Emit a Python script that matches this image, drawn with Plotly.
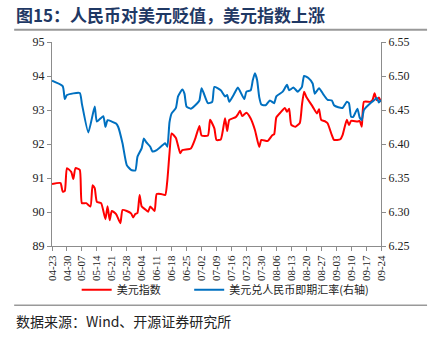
import plotly.graph_objects as go

# 美元指数 (left axis)
dxy_dates = ["2021-04-23","2021-04-27","2021-04-28","2021-04-29","2021-04-30","2021-05-02","2021-05-03","2021-05-04","2021-05-06","2021-05-07",
             "2021-05-09","2021-05-11","2021-05-12","2021-05-13","2021-05-14","2021-05-16","2021-05-18","2021-05-19","2021-05-20","2021-05-21",
             "2021-05-23","2021-05-25","2021-05-26","2021-05-28","2021-05-30","2021-05-31","2021-06-01","2021-06-02","2021-06-03","2021-06-04",
             "2021-06-06","2021-06-07","2021-06-08","2021-06-10","2021-06-11","2021-06-13","2021-06-15","2021-06-16","2021-06-17","2021-06-18",
             "2021-06-20","2021-06-22","2021-06-23","2021-06-27","2021-06-29","2021-07-01","2021-07-02","2021-07-05","2021-07-06","2021-07-08",
             "2021-07-09","2021-07-11","2021-07-13","2021-07-14","2021-07-15","2021-07-18","2021-07-19","2021-07-20","2021-07-21","2021-07-23",
             "2021-07-25","2021-07-27","2021-07-29","2021-07-30","2021-08-02","2021-08-04","2021-08-05","2021-08-06","2021-08-08","2021-08-10",
             "2021-08-11","2021-08-12","2021-08-13","2021-08-15","2021-08-17","2021-08-18","2021-08-19","2021-08-20","2021-08-23","2021-08-25",
             "2021-08-26","2021-08-27","2021-08-29","2021-08-30","2021-09-01","2021-09-02","2021-09-05","2021-09-06","2021-09-08","2021-09-09",
             "2021-09-10","2021-09-13","2021-09-14","2021-09-15","2021-09-16","2021-09-19","2021-09-20","2021-09-21","2021-09-22","2021-09-23",
             "2021-09-24"]
dxy_values = [90.82,90.85,90.60,90.62,91.29,91.18,90.97,91.29,91.24,90.26,
              90.26,90.16,90.79,90.70,90.30,90.26,89.79,90.17,89.76,90.03,
              89.94,89.67,90.06,90.03,89.96,89.84,89.94,89.97,90.50,90.16,
              90.06,90.01,90.16,90.03,90.53,90.53,90.50,90.94,91.73,92.31,
              92.18,91.73,91.82,91.87,92.15,92.53,92.25,92.25,92.71,92.46,
              92.12,92.13,92.76,92.38,92.71,92.79,92.87,92.98,92.82,92.92,
              92.75,92.41,91.91,92.12,92.09,92.25,92.29,92.78,92.93,93.06,
              92.95,93.04,92.56,92.51,92.62,93.15,93.54,93.39,93.10,92.90,
              93.02,92.71,92.66,92.61,92.26,92.12,92.14,92.26,92.71,92.56,
              92.68,92.66,92.68,92.51,93.24,93.24,93.29,93.49,93.29,93.37,
              93.24]

# 美元兑人民币即期汇率 (right axis)
cny_dates = ["2021-04-23","2021-04-28","2021-04-29","2021-04-30","2021-05-06","2021-05-07","2021-05-10","2021-05-13","2021-05-14","2021-05-17",
             "2021-05-18","2021-05-19","2021-05-21","2021-05-23","2021-05-24","2021-05-26","2021-05-28","2021-05-30","2021-06-01","2021-06-02",
             "2021-06-04","2021-06-05","2021-06-06","2021-06-08","2021-06-09","2021-06-11","2021-06-14","2021-06-15","2021-06-16","2021-06-17",
             "2021-06-18","2021-06-20","2021-06-21","2021-06-23","2021-06-24","2021-06-25","2021-06-27","2021-06-30","2021-07-01","2021-07-02",
             "2021-07-03","2021-07-05","2021-07-07","2021-07-08","2021-07-11","2021-07-13","2021-07-14","2021-07-15","2021-07-17","2021-07-19",
             "2021-07-22","2021-07-23","2021-07-25","2021-07-26","2021-07-27","2021-07-28","2021-07-29","2021-07-30","2021-08-01","2021-08-03",
             "2021-08-05","2021-08-06","2021-08-09","2021-08-11","2021-08-12","2021-08-14","2021-08-16","2021-08-17","2021-08-18","2021-08-19",
             "2021-08-21","2021-08-23","2021-08-24","2021-08-26","2021-08-28","2021-08-30","2021-09-01","2021-09-02","2021-09-04","2021-09-06",
             "2021-09-08","2021-09-09","2021-09-10","2021-09-11","2021-09-12","2021-09-13","2021-09-14","2021-09-15","2021-09-16","2021-09-19",
             "2021-09-21","2021-09-22","2021-09-23","2021-09-24"]
cny_values = [6.493,6.485,6.466,6.472,6.475,6.459,6.417,6.455,6.433,6.441,
              6.425,6.435,6.433,6.430,6.425,6.401,6.369,6.362,6.361,6.381,
              6.394,6.408,6.403,6.396,6.389,6.391,6.399,6.401,6.396,6.432,
              6.445,6.453,6.470,6.480,6.474,6.455,6.452,6.460,6.464,6.482,
              6.475,6.460,6.462,6.484,6.479,6.470,6.472,6.462,6.472,6.483,
              6.466,6.477,6.479,6.494,6.504,6.494,6.469,6.458,6.457,6.464,
              6.460,6.470,6.477,6.487,6.479,6.483,6.477,6.480,6.484,6.500,
              6.497,6.489,6.474,6.482,6.473,6.465,6.464,6.457,6.454,6.453,
              6.462,6.460,6.440,6.440,6.446,6.452,6.439,6.435,6.450,6.460,
              6.465,6.468,6.461,6.465]

title_text = "<b>图15：人民币对美元贬值，美元指数上涨</b>"
source_text = "数据来源：Wind、开源证券研究所"
name_dxy = "美元指数"
name_cny = "美元兑人民币即期汇率(右轴)"

serif = "Liberation Serif, Noto Sans CJK SC"
axis_gray = "#8c8c8c"
legend_font = dict(family="Noto Sans CJK SC", size=11, color="#222")

fig = go.Figure()
fig.add_trace(go.Scatter(x=dxy_dates, y=dxy_values, name=name_dxy, mode="lines", legend="legend",
                         line=dict(color="#FF0000", width=2, shape="spline", smoothing=0.5)))
fig.add_trace(go.Scatter(x=cny_dates, y=cny_values, name=name_cny, mode="lines", yaxis="y2", legend="legend2",
                         line=dict(color="#0070C0", width=2, shape="spline", smoothing=0.5)))

fig.update_layout(
    width=441, height=341,
    margin=dict(l=52, r=60, t=42, b=95),
    paper_bgcolor="white", plot_bgcolor="white",
    font=dict(family=serif, size=12, color="#222"),
    showlegend=True,
    legend=dict(orientation="h", x=0.075, xanchor="left", y=-0.215, yanchor="middle",
                font=legend_font, bgcolor="rgba(0,0,0,0)"),
    legend2=dict(orientation="h", x=0.417, xanchor="left", y=-0.215, yanchor="middle",
                 font=legend_font, bgcolor="rgba(0,0,0,0)"),
    xaxis=dict(type="date", range=["2021-04-23", "2021-09-24"],
               tick0="2021-04-23", dtick=7 * 86400000, tickformat="%m-%d",
               tickangle=-90, tickfont=dict(family=serif, size=11, color="#222"),
               showline=True, linecolor=axis_gray, linewidth=1,
               ticks="outside", ticklen=4, tickcolor=axis_gray,
               showgrid=False, zeroline=False),
    yaxis=dict(range=[89, 95], dtick=1, showline=True, linecolor=axis_gray, linewidth=1,
               ticks="outside", ticklen=4, tickcolor=axis_gray, showgrid=False, zeroline=False,
               tickfont=dict(family=serif, size=12, color="#222")),
    yaxis2=dict(range=[6.25, 6.55], dtick=0.05, tickformat=".2f", overlaying="y", side="right",
                showline=True, linecolor=axis_gray, linewidth=1,
                ticks="outside", ticklen=4, tickcolor=axis_gray, showgrid=False, zeroline=False,
                tickfont=dict(family=serif, size=12, color="#222")),
)

fig.add_annotation(text=title_text, xref="paper", yref="paper", x=-0.115, y=1.135,
                   xanchor="left", yanchor="middle", showarrow=False,
                   font=dict(family="Noto Sans CJK SC", size=17, color="#1F3864"))
fig.add_annotation(text=source_text, xref="paper", yref="paper", x=-0.115, y=-0.37,
                   xanchor="left", yanchor="middle", showarrow=False,
                   font=dict(family="Noto Sans CJK SC", size=14, color="#222"))
fig.add_shape(type="line", xref="paper", yref="paper", x0=-0.115, x1=1.14, y0=1.06, y1=1.06,
              line=dict(color="#999999", width=2))
fig.add_shape(type="line", xref="paper", yref="paper", x0=-0.115, x1=1.14, y0=-0.29, y1=-0.29,
              line=dict(color="#999999", width=1.5))

fig.write_html("out.html")
